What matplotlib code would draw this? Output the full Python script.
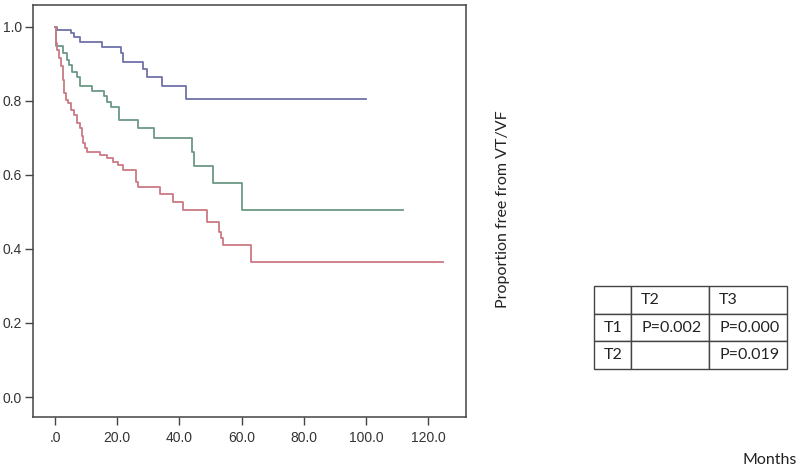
import matplotlib
matplotlib.use("Agg")
import matplotlib.pyplot as plt
import numpy as np

# ---- data ----
t1_times = [0.0, 0.75, 5.0, 6.1, 8.0, 15.0, 21.1, 22.0, 28.2, 29.6, 34.3, 42.0, 99.9]
t1_surv = [1.0, 0.992, 0.983, 0.972, 0.960, 0.945, 0.929, 0.906, 0.886, 0.864, 0.839, 0.805, 0.805]

t2_times = [0.0, 0.4, 2.7, 3.75, 4.5, 5.4, 7.2, 8.0, 11.8, 15.8, 16.8, 17.9, 20.7, 26.8, 31.9,
            43.9, 44.8, 50.9, 60.0, 112.0]
t2_surv = [1.0, 0.949, 0.929, 0.911, 0.897, 0.879, 0.864, 0.841, 0.828, 0.812, 0.798, 0.783,
           0.749, 0.726, 0.701, 0.663, 0.625, 0.578, 0.505, 0.505]

t3_times = [0.0, 0.2, 0.75, 1.3, 1.9, 2.5, 3.0, 3.5, 4.3, 5.1, 6.1, 7.2, 8.0, 8.6, 9.1, 9.6,
            10.4, 14.5, 16.6, 18.7, 20.4, 22.0, 26.0, 26.8, 33.8, 37.8, 41.1, 49.0, 52.8,
            53.3, 53.9, 62.9, 124.9]
t3_surv = [1.0, 0.956, 0.938, 0.915, 0.893, 0.857, 0.821, 0.803, 0.794, 0.776, 0.762, 0.740,
           0.726, 0.704, 0.686, 0.672, 0.663, 0.654, 0.645, 0.636, 0.627, 0.614, 0.582, 0.568,
           0.549, 0.528, 0.504, 0.474, 0.446, 0.430, 0.411, 0.365, 0.365]

x_ticks = [0, 20, 40, 60, 80, 100, 120]
x_tick_labels = [".0", "20.0", "40.0", "60.0", "80.0", "100.0", "120.0"]
y_ticks = [0.0, 0.2, 0.4, 0.6, 0.8, 1.0]
y_tick_labels = ["0.0", "0.2", "0.4", "0.6", "0.8", "1.0"]

table_cells = [["", "T2", "T3"],
               ["T1", "P=0.002", "P=0.000"],
               ["T2", "", "P=0.019"]]

colors = {"T1": "#7072a8", "T2": "#6c9886", "T3": "#cb7a82"}

# ---- figure ----
fig = plt.figure(figsize=(8, 4.69), dpi=100)
ax = fig.add_axes([33 / 800, 52 / 469, 433 / 800, 412 / 469])

ax.step(t1_times, t1_surv, where="post", color=colors["T1"], lw=1.3)
ax.step(t2_times, t2_surv, where="post", color=colors["T2"], lw=1.3)
ax.step(t3_times, t3_surv, where="post", color=colors["T3"], lw=1.3)

ax.set_xlim(-7.1, 132.2)
ax.set_ylim(-0.054, 1.059)
ax.set_xticks(x_ticks)
ax.set_xticklabels(x_tick_labels)
ax.set_yticks(y_ticks)
ax.set_yticklabels(y_tick_labels)
for lab in ax.get_xticklabels() + ax.get_yticklabels():
    lab.set_fontfamily("Liberation Sans")
    lab.set_fontsize(10)
    lab.set_color("#333333")
ax.tick_params(axis="both", direction="out", length=6, width=1.0, color="#444444", pad=2)
ax.tick_params(axis="x", pad=4)
for s in ax.spines.values():
    s.set_color("#444444")
    s.set_linewidth(1.1)

# axis labels placed as in reference
fig.text(503 / 800, 1 - 209 / 469, "Proportion free from VT/VF", rotation=90,
         ha="center", va="center", fontsize=11.5, family="Lato", color="#222222")
fig.text(770 / 800, 1 - 460 / 469, "Months", ha="center", va="center",
         fontsize=11.5, family="Lato", color="#222222")

# p-value table
tax = fig.add_axes([594 / 800, (469 - 369) / 469, 193 / 800, 83 / 469])
tax.axis("off")
tbl = tax.table(cellText=table_cells, colWidths=[37 / 193, 78 / 193, 78 / 193],
                cellLoc="left", bbox=[0, 0, 1, 1])
tbl.auto_set_font_size(False)
for (r, c), cell in tbl.get_celld().items():
    cell.set_edgecolor("#444444")
    cell.set_linewidth(1.0)
    cell.PAD = 0.26 if c == 0 else 0.13
    cell.get_text().set_fontsize(11.5)
    cell.get_text().set_fontfamily("Lato")
    cell.get_text().set_color("#222222")

fig.savefig("out.png", dpi=100, facecolor="white")
